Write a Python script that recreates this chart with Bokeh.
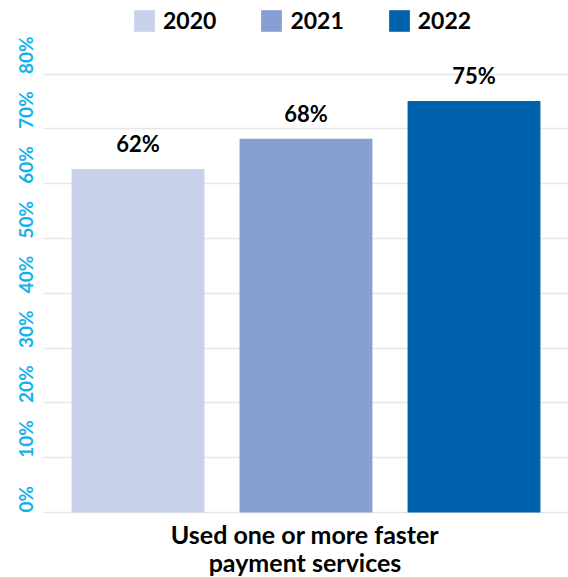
import math
from bokeh.plotting import figure
from bokeh.layouts import row
from bokeh.models import (ColumnDataSource, FactorRange, Range1d, FixedTicker,
                          Legend, LegendItem, LabelSet)
from bokeh.transform import dodge
from bokeh.core.properties import value
from bokeh.embed import file_html
from bokeh.resources import INLINE

category = "Used one or more faster\npayment services"
years = ["2020", "2021", "2022"]
values = [62.7, 68.2, 75.1]
value_labels = ["62%", "68%", "75%"]
colors = ["#C7D2EA", "#879FD1", "#0061AD"]
offsets = [-0.32, 0.0, 0.32]
y_ticks = [0, 10, 20, 30, 40, 50, 60, 70, 80]
y_tick_labels = ["0%", "10%", "20%", "30%", "40%", "50%", "60%", "70%", "80%"]

FONT = "Lato"
PX_PER_UNIT = 5.48
y_range = Range1d(-65 / PX_PER_UNIT, 512 / PX_PER_UNIT)

# ---- left strip holding the rotated y tick labels ----
left = figure(frame_width=43, frame_height=577, output_backend="svg",
              toolbar_location=None, x_range=Range1d(0, 43), y_range=y_range,
              min_border=0)
left.axis.visible = False
left.grid.visible = False
left.outline_line_color = None
left.text(x=25, y=y_ticks, text=y_tick_labels, angle=math.pi / 2,
          text_align="left", text_baseline="middle",
          text_font=value(FONT), text_font_style="bold",
          text_font_size="19px", text_color="#12B2EA")

# ---- main chart ----
p = figure(frame_width=525, frame_height=577, output_backend="svg",
           toolbar_location=None,
           x_range=FactorRange(category, range_padding=0),
           y_range=y_range, min_border=0)
p.outline_line_color = None
p.background_fill_color = "white"
p.border_fill_color = "white"
p.axis.visible = False

items = []
for yr, v, lab, c, off in zip(years, values, value_labels, colors, offsets):
    src = ColumnDataSource(dict(x=[category], top=[v], label=[lab]))
    r = p.vbar(x=dodge("x", off, range=p.x_range), top="top", width=0.253,
               bottom=0, source=src, fill_color=c, line_color=None)
    items.append(LegendItem(label=yr, renderers=[r]))
    lbls = LabelSet(x=dodge("x", off, range=p.x_range), y="top", text="label",
                    source=src, text_align="center", text_baseline="bottom",
                    y_offset=12, text_font=value(FONT), text_font_style="bold",
                    text_font_size="22px", text_color="black")
    p.add_layout(lbls)

# category label (two lines) under the baseline
for i, line in enumerate(category.split("\n")):
    p.text(x=[category], y=[0], text=[line], x_offset=-1, y_offset=21.5 + 28 * i,
           text_align="center", text_baseline="alphabetic",
           text_font=value(FONT), text_font_style="bold",
           text_font_size="25px", text_color="black")

legend = Legend(items=items, orientation="horizontal", location=(88, 543),
                glyph_width=26, glyph_height=27, label_standoff=6, spacing=42,
                padding=0, margin=0, border_line_color=None,
                background_fill_alpha=0,
                label_text_font=FONT, label_text_font_style="bold",
                label_text_font_size="23px", label_text_color="black",
                label_height=27)
p.add_layout(legend, "center")

p.ygrid.ticker = FixedTicker(ticks=y_ticks)
p.ygrid.grid_line_color = "#E6E6E6"
p.ygrid.grid_line_width = 1.5
p.xgrid.grid_line_color = None

layout = row(left, p, spacing=0)
open("out.html", "w").write(file_html(layout, INLINE))
